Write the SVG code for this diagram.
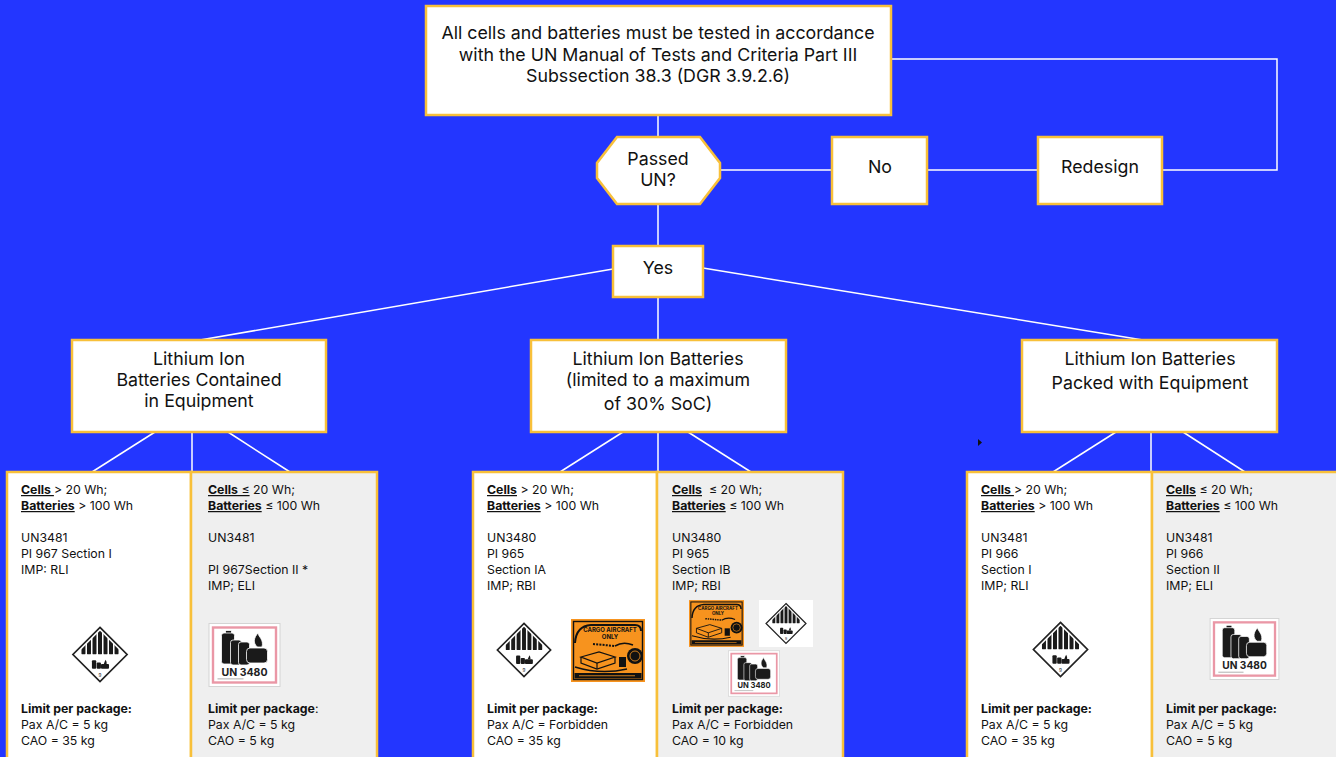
<svg xmlns="http://www.w3.org/2000/svg" width="1336" height="757" viewBox="0 0 1336 757">
<style>
.bg{fill:#2336ff}
.box{fill:#fff;stroke:#f8c03a;stroke-width:2.5}
.leafw{fill:#fff;stroke:#f8c03a;stroke-width:2.5}
.leafg{fill:#efefef;stroke:#f8c03a;stroke-width:2.5}
.conn{stroke:#fff;stroke-width:1.5;fill:none}
.h{font-family:Inter,"Noto Sans","Liberation Sans",sans-serif;font-size:17.8px;fill:#111;text-anchor:middle}
.t{font-family:Inter,"Noto Sans","Liberation Sans",sans-serif;font-size:12.3px;fill:#111}
.b{font-weight:bold}
.u{text-decoration:underline}
</style>
<defs>
<clipPath id="c9clip"><polygon points="30,5 55,30 5,30"/></clipPath>
<symbol id="c9" viewBox="0 0 60 60">
<polygon points="30,1.5 58.5,30 30,58.5 1.5,30" fill="#fff" stroke="#222" stroke-width="1.8"/>
<g clip-path="url(#c9clip)" fill="#1a1a1a">
<rect x="10.5" y="0" width="4.2" height="31" rx="2"/>
<rect x="16.3" y="0" width="4.2" height="31" rx="2"/>
<rect x="22.1" y="0" width="4.2" height="31" rx="2"/>
<rect x="27.9" y="0" width="4.2" height="31" rx="2"/>
<rect x="33.7" y="0" width="4.2" height="31" rx="2"/>
<rect x="39.5" y="0" width="4.2" height="31" rx="2"/>
<rect x="45.3" y="0" width="4.2" height="31" rx="2"/>
</g>
<g fill="#1a1a1a">
<rect x="21.5" y="36" width="4.5" height="9" rx="1"/>
<rect x="26.5" y="38.5" width="4.5" height="6.5" rx="1"/>
<rect x="31" y="40" width="8.5" height="5" rx="1"/>
<path d="M34 40 q1 -3 2 -4.5 q1.2 2.2 1 4.5z"/>
</g>
<text x="30" y="54" font-family="Inter,sans-serif" font-size="5" text-anchor="middle" fill="#222">9</text>
</symbol>
<symbol id="li" viewBox="0 0 72 64">
<rect x="0.5" y="0.5" width="71" height="63" fill="#fff" stroke="#d4d4d4"/>
<rect x="4.5" y="4.5" width="63" height="55" fill="none" stroke="#ea97a6" stroke-width="2.4"/>
<g fill="#1a1a1a" stroke="#fff" stroke-width="0.8">
<rect x="17" y="7.5" width="6" height="3.5"/>
<rect x="13" y="10" width="13" height="31" rx="2.5"/>
<rect x="22" y="17" width="11" height="25" rx="2.5"/>
<rect x="30" y="19" width="11" height="23" rx="2.5"/>
<rect x="38" y="25" width="21" height="15" rx="3.5"/>
<path d="M49 24 C44 20 45.5 14.5 49.5 10 C50 14 55.5 16.5 53.5 24 Z"/>
</g>
<text x="36" y="52.5" font-family="Inter,'Liberation Sans',sans-serif" font-size="10.5" font-weight="bold" text-anchor="middle" fill="#222">UN 3480</text>
<rect x="9" y="55.5" width="26" height="0.8" fill="#999"/>
</symbol>
<symbol id="cao" viewBox="0 0 74 63">
<rect width="74" height="63" fill="#f7931e"/>
<rect x="2.5" y="2.5" width="69" height="58" fill="none" stroke="#111" stroke-width="1.4"/>
<path d="M4 24 Q5 7 20 6 L64 6 Q70 6 70 12" fill="none" stroke="#111" stroke-width="2"/>
<text x="39" y="13" font-family="Inter,'Liberation Sans',sans-serif" font-size="6" font-weight="bold" text-anchor="middle" fill="#111">CARGO AIRCRAFT</text>
<text x="39" y="19.5" font-family="Inter,'Liberation Sans',sans-serif" font-size="6" font-weight="bold" text-anchor="middle" fill="#111">ONLY</text>
<line x1="22" y1="25" x2="44" y2="27" stroke="#111" stroke-width="2" stroke-dasharray="2 1.2"/>
<path d="M44 27 Q52 22 62 26" fill="none" stroke="#111" stroke-width="1.5"/>
<circle cx="64" cy="37" r="8" fill="#111"/>
<circle cx="64" cy="37" r="5" fill="none" stroke="#f7931e" stroke-width="0.8"/>
<path d="M10 38 L28 33 L44 38 L26 44 Z" fill="none" stroke="#111" stroke-width="1.2"/>
<path d="M10 38 L10 44 L26 50 L44 44 L44 38" fill="none" stroke="#111" stroke-width="1.2"/>
<line x1="26" y1="44" x2="26" y2="50" stroke="#111" stroke-width="1.2"/>
<rect x="48" y="38" width="7" height="10" fill="#111"/>
<path d="M4 48 Q30 56 56 50" fill="none" stroke="#111" stroke-width="1.5"/>
<rect x="3.5" y="54" width="67" height="5.5" fill="#111"/>
<rect x="8" y="56.4" width="56" height="0.8" fill="#f7931e"/>
</symbol>
</defs>

<rect class="bg" x="0" y="0" width="1336" height="757"/>

<g id="connectors">
<line class="conn" x1="658" y1="115" x2="658" y2="137"/>
<line class="conn" x1="658" y1="204" x2="658" y2="246"/>
<line class="conn" x1="720" y1="170" x2="832" y2="170"/>
<line class="conn" x1="927" y1="170" x2="1038" y2="170"/>
<polyline class="conn" points="1162,170 1277,170 1277,59 891,59"/>
<line class="conn" x1="613" y1="269" x2="200" y2="340"/>
<line class="conn" x1="703" y1="268" x2="1143" y2="340"/>
<line class="conn" x1="658" y1="297" x2="658" y2="340"/>
<line class="conn" x1="155" y1="432" x2="92" y2="472"/>
<line class="conn" x1="192" y1="432" x2="192" y2="472"/>
<line class="conn" x1="228" y1="432" x2="290" y2="472"/>
<line class="conn" x1="623" y1="432" x2="560" y2="472"/>
<line class="conn" x1="658" y1="432" x2="658" y2="472"/>
<line class="conn" x1="688" y1="432" x2="751" y2="472"/>
<line class="conn" x1="1116" y1="432" x2="1053" y2="472"/>
<line class="conn" x1="1151" y1="432" x2="1151" y2="472"/>
<line class="conn" x1="1183" y1="432" x2="1245" y2="472"/>
</g>

<g id="start">
<rect class="box" x="426" y="6" width="465" height="109"/>
<text class="h" x="658" y="39">All cells and batteries must be tested in accordance</text>
<text class="h" x="658" y="61">with the UN Manual of Tests and Criteria Part III</text>
<text class="h" x="658" y="82">Subssection 38.3 (DGR 3.9.2.6)</text>
</g>

<g id="decision">
<polygon class="box" points="617,137 700,137 720,163 720,178 700,204 617,204 597,178 597,163"/>
<text class="h" x="658" y="165">Passed</text>
<text class="h" x="658" y="186">UN?</text>
</g>

<g id="no">
<rect class="box" x="832" y="137" width="95" height="67"/>
<text class="h" x="880" y="173">No</text>
</g>

<g id="redesign">
<rect class="box" x="1038" y="137" width="124" height="67"/>
<text class="h" x="1100" y="173">Redesign</text>
</g>

<g id="yes">
<rect class="box" x="613" y="246" width="90" height="51"/>
<text class="h" x="658" y="274">Yes</text>
</g>

<g id="contained">
<rect class="box" x="72" y="340" width="254" height="92"/>
<text class="h" x="199" y="365">Lithium Ion</text>
<text class="h" x="199" y="386">Batteries Contained</text>
<text class="h" x="199" y="407">in Equipment</text>
</g>

<g id="limited">
<rect class="box" x="531" y="340" width="255" height="92"/>
<text class="h" x="658" y="365">Lithium Ion Batteries</text>
<text class="h" x="658" y="386">(limited to a maximum</text>
<text class="h" x="658" y="410">of 30% SoC)</text>
</g>

<g id="packed">
<rect class="box" x="1022" y="340" width="255" height="92"/>
<text class="h" x="1150" y="365">Lithium Ion Batteries</text>
<text class="h" x="1150" y="389">Packed with Equipment</text>
</g>

<g id="leaf-contained-large">
<rect class="leafw" x="7" y="472" width="184" height="300"/>
<text class="t" x="21" y="494"><tspan class="b u">Cells </tspan>&gt; 20 Wh;</text>
<text class="t" x="21" y="510"><tspan class="b u">Batteries</tspan> &gt; 100 Wh</text>
<text class="t" x="21" y="542">UN3481</text>
<text class="t" x="21" y="558">PI 967 Section I</text>
<text class="t" x="21" y="574">IMP: RLI</text>
<use href="#c9" x="71" y="626" width="58" height="57"/>
<text class="t b" x="21" y="713">Limit per package:</text>
<text class="t" x="21" y="729">Pax A/C = 5 kg</text>
<text class="t" x="21" y="745">CAO = 35 kg</text>
</g>

<g id="leaf-contained-small">
<rect class="leafg" x="191" y="472" width="186" height="300"/>
<text class="t" x="208" y="494"><tspan class="b u">Cells</tspan><tspan class="u"> ≤</tspan> 20 Wh;</text>
<text class="t" x="208" y="510"><tspan class="b u">Batteries</tspan> ≤ 100 Wh</text>
<text class="t" x="208" y="542">UN3481</text>
<text class="t" x="208" y="574">PI 967Section II *</text>
<text class="t" x="208" y="590">IMP; ELI</text>
<use href="#li" x="208" y="623" width="73" height="64"/>
<text class="t" x="208" y="713"><tspan class="b">Limit per package</tspan>:</text>
<text class="t" x="208" y="729">Pax A/C = 5 kg</text>
<text class="t" x="208" y="745">CAO = 5 kg</text>
</g>

<g id="leaf-limited-large">
<rect class="leafw" x="473" y="472" width="184" height="300"/>
<text class="t" x="487" y="494"><tspan class="b u">Cells</tspan> &gt; 20 Wh;</text>
<text class="t" x="487" y="510"><tspan class="b u">Batteries</tspan> &gt; 100 Wh</text>
<text class="t" x="487" y="542">UN3480</text>
<text class="t" x="487" y="558">PI 965</text>
<text class="t" x="487" y="574">Section IA</text>
<text class="t" x="487" y="590">IMP; RBI</text>
<use href="#c9" x="495" y="622" width="58" height="56"/>
<use href="#cao" x="571" y="619" width="74" height="63"/>
<text class="t b" x="487" y="713">Limit per package:</text>
<text class="t" x="487" y="729">Pax A/C = Forbidden</text>
<text class="t" x="487" y="745">CAO = 35 kg</text>
</g>

<g id="leaf-limited-small">
<rect class="leafg" x="657" y="472" width="186" height="300"/>
<text class="t" x="672" y="494" xml:space="preserve"><tspan class="b u">Cells</tspan>  ≤ 20 Wh;</text>
<text class="t" x="672" y="510"><tspan class="b u">Batteries</tspan> ≤ 100 Wh</text>
<text class="t" x="672" y="542">UN3480</text>
<text class="t" x="672" y="558">PI 965</text>
<text class="t" x="672" y="574">Section IB</text>
<text class="t" x="672" y="590">IMP; RBI</text>
<use href="#cao" x="689" y="600" width="55" height="47"/>
<rect x="759" y="600" width="54" height="47" fill="#fff"/>
<use href="#c9" x="765" y="602" width="42" height="43"/>
<use href="#li" x="728" y="650" width="52" height="47"/>
<text class="t b" x="672" y="713">Limit per package:</text>
<text class="t" x="672" y="729">Pax A/C = Forbidden</text>
<text class="t" x="672" y="745">CAO = 10 kg</text>
</g>

<g id="leaf-packed-large">
<rect class="leafw" x="967" y="472" width="185" height="300"/>
<text class="t" x="981" y="494"><tspan class="b u">Cells </tspan>&gt; 20 Wh;</text>
<text class="t" x="981" y="510"><tspan class="b u">Batteries</tspan> &gt; 100 Wh</text>
<text class="t" x="981" y="542">UN3481</text>
<text class="t" x="981" y="558">PI 966</text>
<text class="t" x="981" y="574">Section I</text>
<text class="t" x="981" y="590">IMP; RLI</text>
<use href="#c9" x="1031" y="621" width="59" height="57"/>
<text class="t b" x="981" y="713">Limit per package:</text>
<text class="t" x="981" y="729">Pax A/C = 5 kg</text>
<text class="t" x="981" y="745">CAO = 35 kg</text>
</g>

<g id="leaf-packed-small">
<rect class="leafg" x="1152" y="472" width="190" height="300"/>
<text class="t" x="1166" y="494"><tspan class="b u">Cells</tspan> ≤ 20 Wh;</text>
<text class="t" x="1166" y="510"><tspan class="b u">Batteries</tspan> ≤ 100 Wh</text>
<text class="t" x="1166" y="542">UN3481</text>
<text class="t" x="1166" y="558">PI 966</text>
<text class="t" x="1166" y="574">Section II</text>
<text class="t" x="1166" y="590">IMP; ELI</text>
<use href="#li" x="1208" y="618" width="73" height="62"/>
<text class="t b" x="1166" y="713">Limit per package:</text>
<text class="t" x="1166" y="729">Pax A/C = 5 kg</text>
<text class="t" x="1166" y="745">CAO = 5 kg</text>
</g>

<polygon points="978,439 982,442.5 978,446" fill="#111"/>
</svg>
